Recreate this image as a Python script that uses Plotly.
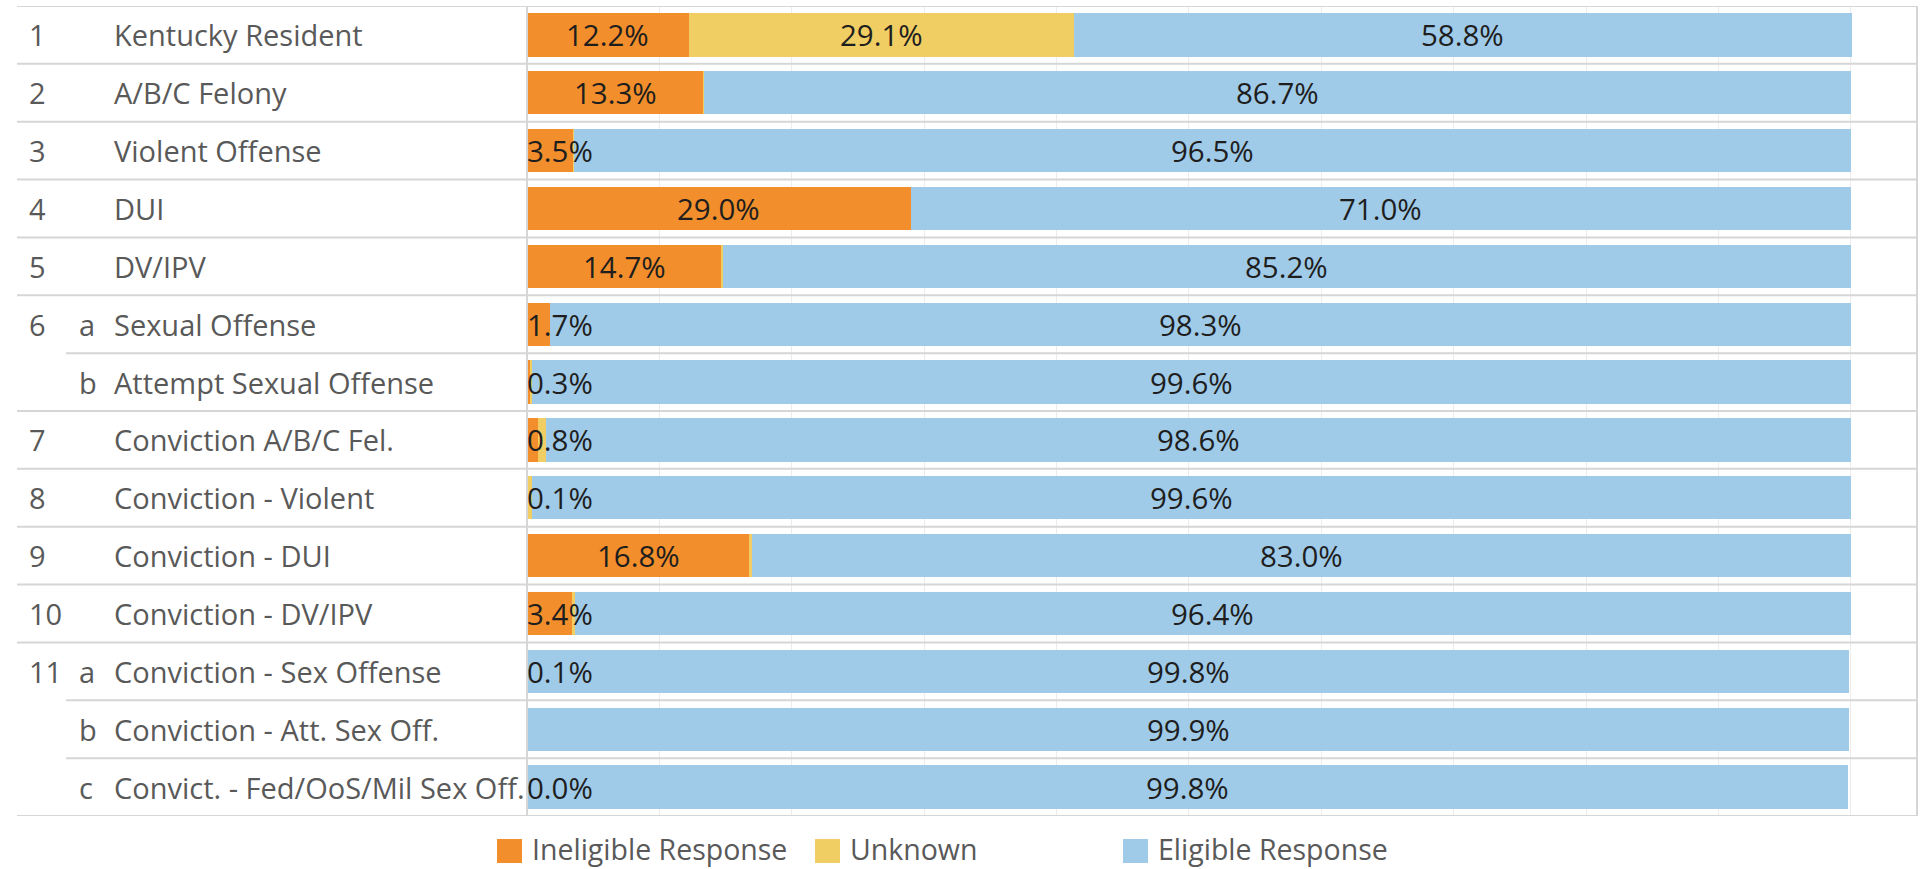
import plotly.graph_objects as go

# table rows: number column, letter column, measure name
row_nums = ["1", "2", "3", "4", "5", "6", "", "7", "8", "9", "10", "11", "", ""]
row_letters = ["", "", "", "", "", "a", "b", "", "", "", "", "a", "b", "c"]
measures = ["Kentucky Resident", "A/B/C Felony", "Violent Offense", "DUI", "DV/IPV",
            "Sexual Offense", "Attempt Sexual Offense", "Conviction A/B/C Fel.",
            "Conviction - Violent", "Conviction - DUI", "Conviction - DV/IPV",
            "Conviction - Sex Offense", "Conviction - Att. Sex Off.",
            "Convict. - Fed/OoS/Mil Sex Off."]

# percent of responses
ineligible = [12.2, 13.3, 3.5, 29.0, 14.7, 1.7, 0.3, 0.8, 0.1, 16.8, 3.4, 0.1, None, 0.0]
unknown = [29.1, 0.05, 0.05, 0.0, 0.1, 0.0, 0.1, 0.6, 0.3, 0.2, 0.2, 0.0, 0.0, 0.0]
eligible = [58.8, 86.7, 96.5, 71.0, 85.2, 98.3, 99.6, 98.6, 99.6, 83.0, 96.4, 99.8, 99.9, 99.8]

series_names = ["Ineligible Response", "Unknown", "Eligible Response"]
series_colors = ["#F28E2B", "#F1CE63", "#A0CBE8"]
series_vals = [ineligible, unknown, eligible]
series_min_label = [0, 5, 0]  # unknown only labelled when big enough

FONT = "Open Sans"
W, H = 1921, 869
L, R, T, B = 527, 4, 6, 53
PW, PH = W - L - R, H - T - B


def px_x(px):
    return (px - L) / PW


def px_y(py):
    return (H - B - py) / PH


fig = go.Figure()
for name, color, vals in zip(series_names, series_colors, series_vals):
    fig.add_trace(go.Bar(
        y=measures,
        x=[v if v is not None else 0 for v in vals],
        orientation="h",
        name=name,
        width=0.75,
        marker=dict(color=color, line=dict(width=0)),
        showlegend=False,
    ))

annotations = []
# bar value labels
half_label = 3.3
start = [0.0] * len(measures)
for vals, min_lab in zip(series_vals, series_min_label):
    for i, v in enumerate(vals):
        if v is None:
            continue
        c = start[i] + v / 2
        if v >= min_lab:
            lab = dict(y=measures[i], xref="x", yref="y", text=f"{v:.1f}%",
                       showarrow=False, font=dict(family=FONT, size=29.5, color="#1e1e1e"))
            if c - half_label < 0:
                lab.update(x=0, xanchor="left", xshift=-2)
            else:
                lab.update(x=c)
            annotations.append(lab)
        start[i] += v

# row header columns
for i, m in enumerate(measures):
    for txt, px in [(row_nums[i], 27), (row_letters[i], 77), (m, 112)]:
        if txt:
            annotations.append(dict(x=px_x(px), y=m, xref="paper", yref="y",
                                    text=txt, showarrow=False, xanchor="left",
                                    font=dict(family=FONT, size=29, color="#595959")))

shapes = []
line_col = "#d6d6d6"
# horizontal row separators
for j in range(len(measures) + 1):
    if 0 < j < len(measures) and row_nums[j] == "":
        x0 = px_x(66)
    else:
        x0 = px_x(17)
    shapes.append(dict(type="line", xref="paper", yref="y", x0=x0, x1=1,
                       y0=j - 0.5, y1=j - 0.5, line=dict(color=line_col, width=2)))
# pane border and right border
for xp in [0, 1]:
    shapes.append(dict(type="line", xref="paper", yref="y", x0=xp, x1=xp,
                       y0=-0.5, y1=len(measures) - 0.5, line=dict(color=line_col, width=2)))

# legend
leg_x = [497, 815, 1123]
for name, color, lx in zip(series_names, series_colors, leg_x):
    shapes.append(dict(type="rect", xref="paper", yref="paper",
                       x0=px_x(lx), x1=px_x(lx + 25), y0=px_y(863), y1=px_y(839),
                       fillcolor=color, line=dict(width=0)))
    annotations.append(dict(x=px_x(lx + 34), y=px_y(849), xref="paper", yref="paper",
                            text=name, showarrow=False, xanchor="left", yanchor="middle",
                            borderpad=0,
                            font=dict(family=FONT, size=28.5, color="#595959")))

fig.update_layout(
    width=W, height=H,
    margin=dict(l=L, r=R, t=T, b=B, pad=0),
    barmode="stack",
    bargap=0.25,
    plot_bgcolor="white",
    paper_bgcolor="white",
    showlegend=False,
    xaxis=dict(range=[0, 105], dtick=10, tick0=0, showticklabels=False, ticks="",
               showgrid=True, gridcolor="#ececec", gridwidth=1, zeroline=False,
               showline=False, fixedrange=True),
    yaxis=dict(type="category", categoryorder="array", categoryarray=measures,
               range=[len(measures) - 0.5, -0.5], showticklabels=False, ticks="",
               showgrid=False, zeroline=False, showline=False, fixedrange=True),
    annotations=annotations,
    shapes=shapes,
    font=dict(family=FONT),
)

fig.write_html("out.html", config={"displayModeBar": False},
               post_script="document.body.style.margin='0';")
